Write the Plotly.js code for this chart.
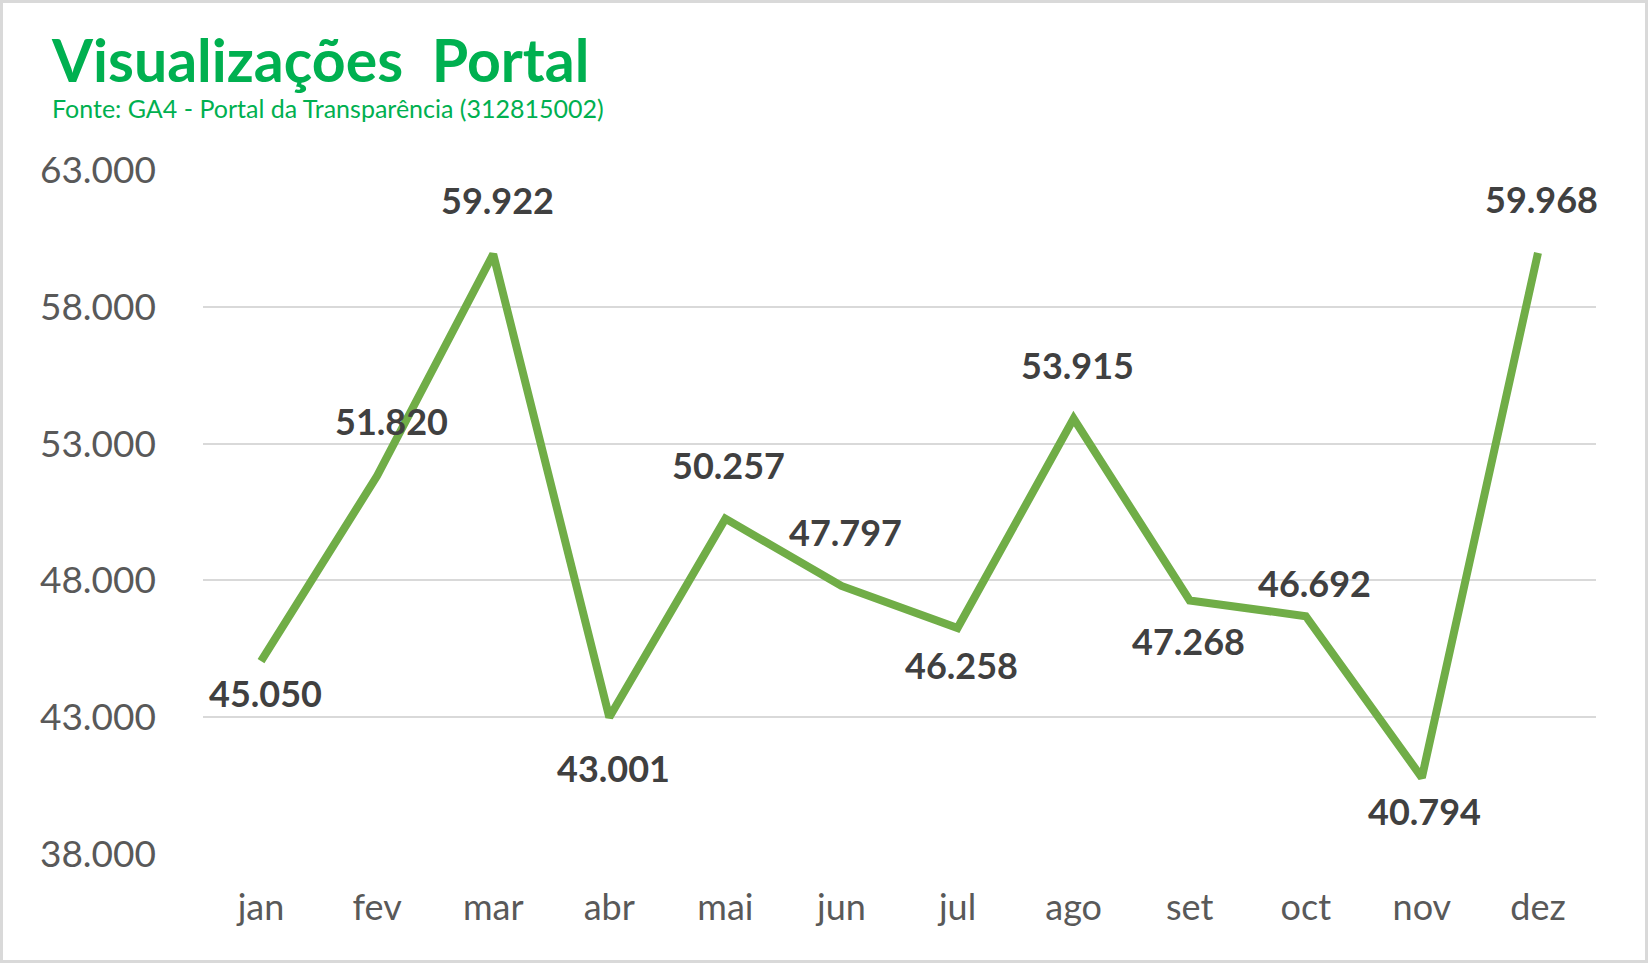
<!DOCTYPE html>
<html>
<head>
<meta charset="utf-8">
<script src="https://cdn.plot.ly/plotly-3.0.1.min.js"></script>
<style>
  html, body { margin: 0; padding: 0; background: #fff; }
  #wrap { position: relative; width: 1648px; height: 963px; }
  #chart { width: 1648px; height: 963px; }
  #frame { position: absolute; left: 0; top: 0; width: 1648px; height: 963px; box-sizing: border-box; border: 3px solid #D9D9D9; pointer-events: none; }
</style>
</head>
<body>
<div id="wrap"><div id="chart"></div><div id="frame"></div></div>
<script>
// ---- data ----
const months = ['jan','fev','mar','abr','mai','jun','jul','ago','set','oct','nov','dez'];
const views = [45050, 51820, 59922, 43001, 50257, 47797, 46258, 53915, 47268, 46692, 40794, 59968];
const yTicks = [38000, 43000, 48000, 53000, 58000, 63000];
const titleText = 'Visualizações\u00a0 Portal';
const subtitleText = 'Fonte: GA4 - Portal da Transparência (312815002)';

// ---- label placement (style, pixels) ----
const labelDx = [4, 14, 4, 4, 3, 4, 4, 4, -1, 9, 3, 4];
const labelDy = [-32, 55, 54, -51, 54, 54, -37, 54, -41, 33, -33, 54];

const W = 1648, H = 963;
const M = {l: 203, r: 52, t: 170, b: 109};
const PW = W - M.l - M.r, PH = H - M.t - M.b;
const px2x = px => (px - M.l) / PW;
const py2y = py => (H - M.b - py) / PH;

function fmt(v) {
  return String(Math.round(v)).replace(/\B(?=(\d{3})+(?!\d))/g, '.');
}

const FONT = 'Lato, "Open Sans", sans-serif';

const annotations = views.map((v, i) => ({
  x: months[i], y: v, xref: 'x', yref: 'y',
  text: fmt(v), showarrow: false,
  xanchor: 'center', yanchor: 'middle',
  xshift: labelDx[i], yshift: labelDy[i],
  font: {family: FONT, size: 36, color: '#404040', weight: 'bold'}
}));

annotations.push({
  x: px2x(49), y: py2y(59), xref: 'paper', yref: 'paper',
  text: titleText, showarrow: false, xanchor: 'left', yanchor: 'middle',
  font: {family: FONT, size: 59, color: '#00B050', weight: 'bold'}
});
annotations.push({
  x: px2x(50), y: py2y(108), xref: 'paper', yref: 'paper',
  text: subtitleText, showarrow: false, xanchor: 'left', yanchor: 'middle',
  font: {family: FONT, size: 25, color: '#00B050'}
});

const trace = {
  type: 'scatter', mode: 'lines',
  x: months, y: views,
  line: {color: '#70AD47', width: 8, shape: 'linear'},
  hoverinfo: 'skip'
};

const layout = {
  width: W, height: H,
  margin: M,
  paper_bgcolor: '#fff', plot_bgcolor: '#fff',
  separators: ',.',
  showlegend: false,
  xaxis: {
    type: 'category', range: [-0.5, 11.5],
    showgrid: false, zeroline: false, showline: false, ticks: '',
    tickfont: {family: FONT, size: 36, color: '#595959'},
    ticklabelstandoff: 29
  },
  yaxis: {
    range: [38000, 63000], tickvals: yTicks,
    ticktext: yTicks.map(fmt),
    showgrid: true, gridcolor: '#D9D9D9', gridwidth: 2,
    zeroline: false, showline: false, ticks: '',
    tickfont: {family: FONT, size: 37, color: '#595959'},
    ticklabelstandoff: 46
  },
  annotations: annotations
};

Plotly.newPlot('chart', [trace], layout, {displayModeBar: false, staticPlot: true});
</script>
</body>
</html>
